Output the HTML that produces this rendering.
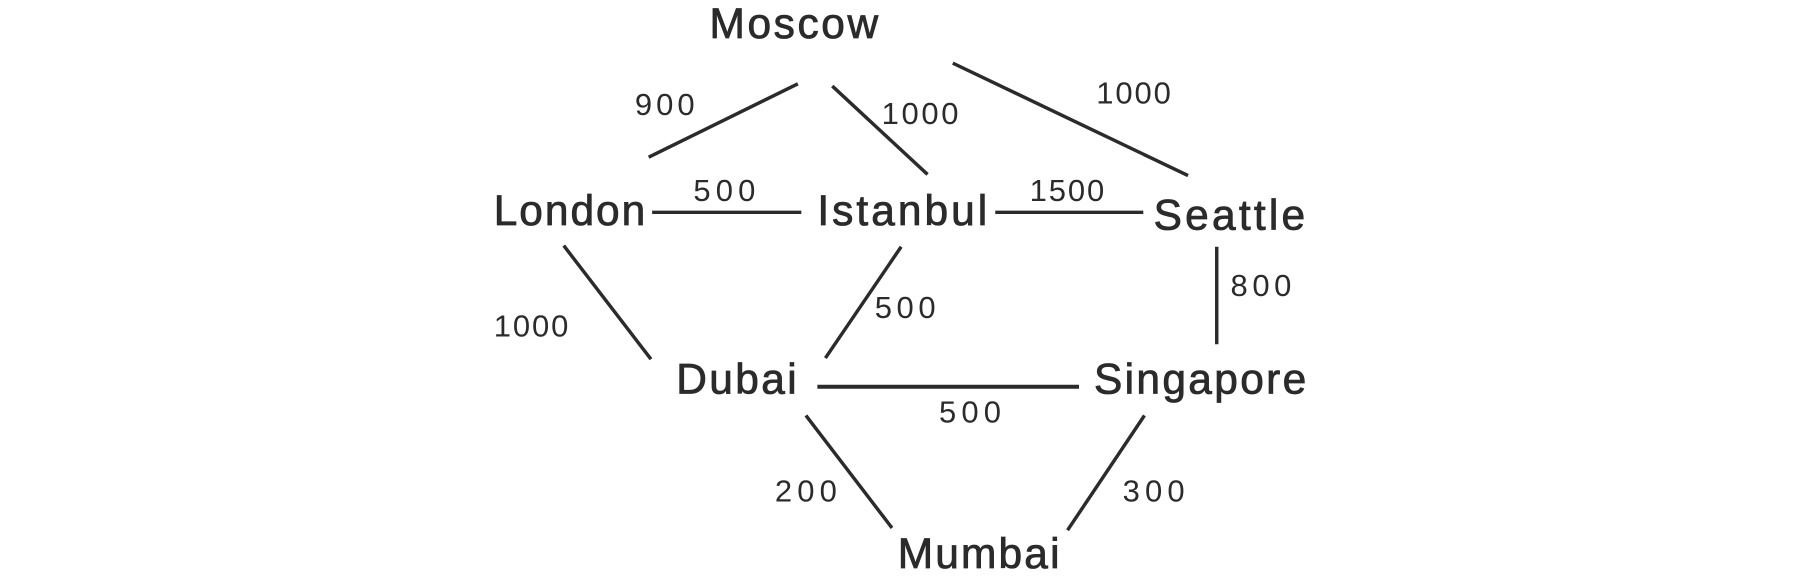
<!DOCTYPE html>
<html><head><meta charset="utf-8"><style>
html,body{margin:0;padding:0;background:#fff;}
svg{display:block}
text{font-family:"Liberation Sans",sans-serif;fill:#2b2b2b}
.c{font-size:37px;stroke:#2b2b2b;stroke-width:0.7px}
.l{font-size:27px}
</style></head><body>
<svg width="1800" height="583" viewBox="0 0 1568 508" xmlns="http://www.w3.org/2000/svg">
<g stroke="#2b2b2b" stroke-width="3" stroke-linecap="butt" fill="none">
<line x1="565" y1="137" x2="695" y2="73"/>
<line x1="725" y1="75" x2="808" y2="152"/>
<line x1="830" y1="55" x2="1035" y2="153"/>
<line x1="568" y1="185" x2="698" y2="185"/>
<line x1="867" y1="185" x2="996" y2="185"/>
<line x1="1060" y1="215" x2="1060" y2="300"/>
<line x1="491" y1="214" x2="567" y2="313"/>
<line x1="785" y1="215" x2="719" y2="312"/>
<line x1="712" y1="337" x2="940" y2="337" stroke-width="3.5"/>
<line x1="702" y1="362" x2="777" y2="460"/>
<line x1="997" y1="362" x2="930" y2="462"/>
</g>
<text class="c" x="618" y="33" textLength="147">Moscow</text>
<text class="c" x="430" y="196" textLength="132">London</text>
<text class="c" x="712" y="196" textLength="148">Istanbul</text>
<text class="c" x="1005" y="200" textLength="132">Seattle</text>
<text class="c" x="589" y="343" textLength="105">Dubai</text>
<text class="c" x="953" y="343" textLength="185">Singapore</text>
<text class="c" x="782" y="495" textLength="141">Mumbai</text>
<text class="l" x="553" y="100" textLength="52">900</text>
<text class="l" x="768" y="108" textLength="67">1000</text>
<text class="l" x="955" y="90" textLength="65">1000</text>
<text class="l" x="604" y="175" textLength="54">500</text>
<text class="l" x="897" y="175" textLength="65">1500</text>
<text class="l" x="1072" y="258" textLength="53">800</text>
<text class="l" x="430" y="293" textLength="65">1000</text>
<text class="l" x="762" y="277" textLength="53">500</text>
<text class="l" x="818" y="368" textLength="54">500</text>
<text class="l" x="675" y="437" textLength="54">200</text>
<text class="l" x="978" y="437" textLength="54">300</text>
</svg>
</body></html>
